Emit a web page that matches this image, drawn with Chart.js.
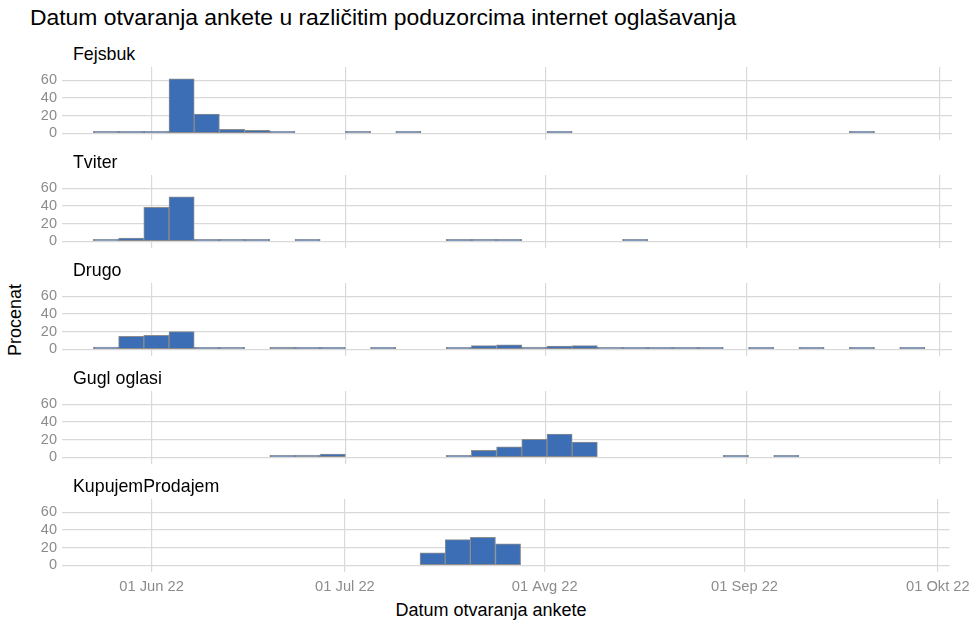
<!DOCTYPE html>
<html>
<head>
<meta charset="utf-8">
<script src="https://cdn.jsdelivr.net/npm/chart.js@4"></script>
<style>
  body { margin: 0; background: #fff; font-family: "Liberation Sans", Arial, sans-serif; }
  #wrap { position: relative; width: 976px; height: 622px; overflow: hidden; }
  canvas { position: absolute; left: 0; }
  .txt { position: absolute; white-space: nowrap; color: #000; }
  .strip { font-size: 17.8px; left: 73px; }
</style>
</head>
<body>
<div id="wrap">
  <div class="txt" style="left:30px; top:4px; font-size:22.9px;">Datum otvaranja ankete u različitim poduzorcima internet oglašavanja</div>
  <div class="txt" style="left:491px; top:600px; font-size:18px; transform:translateX(-50%);">Datum otvaranja ankete</div>
  <div class="txt" style="left:15px; top:320px; font-size:18px; transform:translate(-50%,-50%) rotate(-90deg);">Procenat</div>
</div>
<script>
// days are counted from 01 Jun 2022
const binStart = -9.04;
const binWidth = 3.9;
const xMin = -13.9;
const xMax = 123.85;

const tickDays = [0, 30, 61, 92, 122];
const tickLabels = ['01 Jun 22', '01 Jul 22', '01 Avg 22', '01 Sep 22', '01 Okt 22'];
const yTicks = [0, 20, 40, 60];

const panelNames = ['Fejsbuk', 'Tviter', 'Drugo', 'Gugl oglasi', 'KupujemProdajem'];

const N = null;
const fejsbuk = [0.5, 2.2, 1.2, 61.6, 21.8, 4.5, 3.4, 0.7, N, N, 0.7, N, 0.7, N, N, N, N, N, 0.7, N, N, N, N, N, N, N, N, N, N, N, 0.7, N, N];
const tviter  = [1.0, 3.8, 38.6, 50.2, 0.5, 0.5, 0.5, N, 0.7, N, N, N, N, N, 0.7, 0.7, 0.7, N, N, N, N, 0.7, N, N, N, N, N, N, N, N, N, N, N];
const drugo   = [2.6, 14.7, 15.8, 20.0, 1.8, 1.5, N, 2.5, 0.8, 1.0, N, 0.7, N, N, 0.7, 4.2, 5.0, 2.5, 3.7, 4.2, 0.7, 0.5, 1.2, 0.6, 0.4, N, 0.5, N, 0.5, N, 0.5, N, 0.5];
const gugl    = [N, N, N, N, N, N, N, 2.3, 2.5, 3.8, N, N, N, N, 0.5, 7.9, 12.0, 20.3, 26.3, 17.3, N, N, N, N, N, 0.5, N, 0.5, N, N, N, N, N];
const kupujem = [N, N, N, N, N, N, N, N, N, N, N, N, N, 14.3, 29.0, 31.6, 24.4, N, N, N, N, N, N, N, N, N, N, N, N, N, N, N, N];

const series = [fejsbuk, tviter, drugo, gugl, kupujem];

const panelTops = [67, 175, 283, 391, 499];
const panelHeight = 73;
const pad = 16;
const gridColor = '#d9d9d9';
const tickColor = '#8c8c8c';

const wrap = document.getElementById('wrap');

series.forEach((vals, i) => {
  const last = i === series.length - 1;

  const strip = document.createElement('div');
  strip.className = 'txt strip';
  strip.style.top = (panelTops[i] - 23) + 'px';
  strip.textContent = panelNames[i];
  wrap.appendChild(strip);

  const canvas = document.createElement('canvas');
  const h = panelHeight + pad + (last ? 32 : pad);
  canvas.width = 976;
  canvas.height = h;
  canvas.style.top = (panelTops[i] - pad) + 'px';
  wrap.appendChild(canvas);

  new Chart(canvas.getContext('2d'), {
    type: 'bar',
    data: {
      datasets: [{
        data: vals.map((v, k) => ({ x: binStart + binWidth * (k + 0.5), y: v })),
        backgroundColor: '#3c6eb6',
        borderColor: '#8c8c8c',
        borderWidth: 1,
        borderSkipped: false,
        minBarLength: 2,
        barPercentage: 1,
        categoryPercentage: 1
      }]
    },
    options: {
      responsive: false,
      animation: false,
      devicePixelRatio: 1,
      layout: { padding: { top: pad, bottom: last ? 0 : pad, left: 0, right: 24 } },
      plugins: { legend: { display: false }, tooltip: { enabled: false } },
      scales: {
        x: {
          type: 'linear',
          min: xMin,
          max: xMax,
          offset: false,
          border: { display: false },
          grid: { color: gridColor, lineWidth: 1.2, drawTicks: false, offset: false },
          afterBuildTicks: (scale) => { scale.ticks = tickDays.map(v => ({ value: v })); },
          afterFit: (scale) => { scale.height = last ? 32 : 0; },
          ticks: {
            display: last,
            padding: 6,
            color: tickColor,
            font: { family: 'Liberation Sans', size: 14.7 },
            maxRotation: 0,
            autoSkip: false,
            callback: (v) => tickLabels[tickDays.indexOf(v)]
          }
        },
        y: {
          min: -7.5,
          max: 75,
          border: { display: false },
          grid: { color: gridColor, lineWidth: 1.2, drawTicks: false },
          afterBuildTicks: (scale) => { scale.ticks = yTicks.map(v => ({ value: v })); },
          afterFit: (scale) => { scale.width = 62; },
          ticks: {
            padding: 5,
            color: tickColor,
            font: { family: 'Liberation Sans', size: 14.5 }
          }
        }
      }
    }
  });
});
</script>
</body>
</html>
